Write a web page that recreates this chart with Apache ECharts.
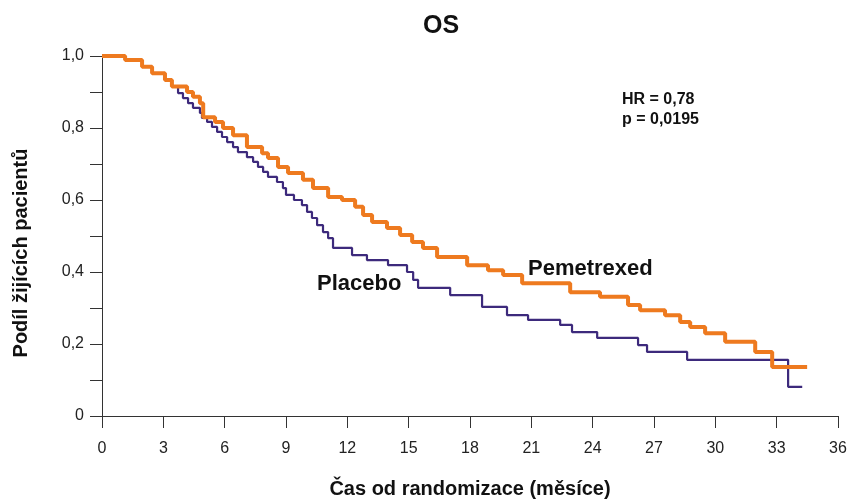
<!DOCTYPE html>
<html>
<head>
<meta charset="utf-8">
<script src="https://cdn.jsdelivr.net/npm/echarts@6/dist/echarts.min.js"></script>
<style>html,body{margin:0;padding:0;background:#fff}#c{width:848px;height:499px}</style>
</head>
<body>
<div id="c"></div>
<script>
// Kaplan-Meier step data: time (months) at which survival drops, and survival after the drop
var pemTime = [0, 1.13, 1.96, 2.45, 3.08, 3.42, 4.16, 4.45, 4.79, 4.95, 5.53, 5.92, 6.41, 7.09, 7.83, 8.12, 8.61, 9.10, 9.83, 10.32, 11.06, 11.74, 12.38, 12.77, 13.21, 13.94, 14.58, 15.17, 15.70, 16.39, 17.86, 18.88, 19.62, 20.55, 22.90, 24.36, 25.73, 26.32, 27.54, 28.28, 28.77, 29.50, 30.48, 31.95, 32.78, 34.49];
var pemSurv = [1.0, 0.989, 0.970, 0.952, 0.933, 0.915, 0.900, 0.887, 0.869, 0.830, 0.817, 0.800, 0.780, 0.747, 0.730, 0.717, 0.692, 0.675, 0.656, 0.633, 0.608, 0.600, 0.581, 0.558, 0.539, 0.522, 0.503, 0.483, 0.467, 0.442, 0.419, 0.405, 0.392, 0.369, 0.344, 0.331, 0.308, 0.294, 0.280, 0.261, 0.247, 0.230, 0.206, 0.178, 0.136, 0.136];
var plaTime = [0, 1.13, 1.96, 2.45, 3.08, 3.42, 3.72, 3.96, 4.21, 4.45, 4.79, 4.89, 5.14, 5.38, 5.63, 5.87, 6.12, 6.41, 6.65, 7.09, 7.39, 7.63, 7.88, 8.12, 8.56, 8.85, 9.00, 9.39, 9.78, 10.03, 10.27, 10.52, 10.81, 11.06, 11.30, 12.23, 12.96, 13.99, 14.92, 15.22, 15.46, 17.03, 18.59, 19.81, 20.84, 22.41, 22.99, 24.22, 26.22, 26.66, 28.62, 33.56, 34.25];
var plaSurv = [1.0, 0.989, 0.970, 0.952, 0.933, 0.915, 0.897, 0.883, 0.869, 0.856, 0.842, 0.828, 0.817, 0.803, 0.789, 0.775, 0.761, 0.747, 0.733, 0.719, 0.706, 0.692, 0.678, 0.664, 0.650, 0.633, 0.614, 0.600, 0.586, 0.567, 0.550, 0.530, 0.511, 0.494, 0.467, 0.447, 0.433, 0.419, 0.400, 0.378, 0.356, 0.336, 0.303, 0.280, 0.267, 0.253, 0.233, 0.217, 0.197, 0.178, 0.156, 0.081, 0.081];
var xTicks = [0, 3, 6, 9, 12, 15, 18, 21, 24, 27, 30, 33, 36];
var yTickLabels = ['0', '0,2', '0,4', '0,6', '0,8', '1,0'];

function zip(a, b) { return a.map(function (v, i) { return [v, b[i]]; }); }

var FONT = '"Liberation Sans", Arial, sans-serif';
var chart = echarts.init(document.getElementById('c'), null, { renderer: 'canvas' });
chart.setOption({
  animation: false,
  backgroundColor: '#ffffff',
  title: {
    text: 'OS', left: 436, top: 9, textAlign: 'center',
    textStyle: { fontFamily: FONT, fontSize: 25, fontWeight: 'bold', color: '#111' }
  },
  grid: { left: 102, right: 10, top: 56, bottom: 83, containLabel: false, outerBoundsMode: 'none' },
  xAxis: {
    type: 'value', min: 0, max: 36, interval: 3,
    name: 'Čas od randomizace (měsíce)', nameLocation: 'middle', nameGap: 63,
    nameTextStyle: { fontFamily: FONT, fontSize: 20, fontWeight: 'bold', color: '#111' },
    axisLine: { lineStyle: { color: '#333', width: 1 } },
    axisTick: { show: true, length: 12, lineStyle: { color: '#333' } },
    axisLabel: {
      margin: 25, fontFamily: FONT, fontSize: 16, color: '#222',
      formatter: function (v) { return xTicks.indexOf(v) >= 0 ? String(v) : ''; }
    },
    splitLine: { show: false }
  },
  yAxis: {
    type: 'value', min: 0, max: 1, interval: 0.1,
    axisLine: { show: true, lineStyle: { color: '#333', width: 1 } },
    axisTick: { show: true, length: 12, lineStyle: { color: '#333' } },
    axisLabel: {
      margin: 18, fontFamily: FONT, fontSize: 16, color: '#222',
      formatter: function (v) {
        var k = Math.round(v * 10);
        if (k % 2 !== 0) return '';
        return yTickLabels[k / 2];
      }
    },
    splitLine: { show: false }
  },
  series: [
    {
      name: 'Placebo', type: 'line', step: 'end', showSymbol: false, z: 2,
      data: zip(plaTime, plaSurv),
      lineStyle: { color: '#3d2a7c', width: 2.2 }
    },
    {
      name: 'Pemetrexed', type: 'line', step: 'end', showSymbol: false, z: 3,
      data: zip(pemTime, pemSurv),
      lineStyle: { color: '#ee7a1f', width: 4 }
    }
  ],
  graphic: [
    { id: 'ytitle', type: 'text', x: 21, y: 253, rotation: Math.PI / 2,
      style: { text: 'Podíl žijících pacientů', font: 'bold 20px ' + FONT, fill: '#111', align: 'center', verticalAlign: 'middle' } },
    { id: 'hr', type: 'text', left: 622, top: 92, style: { text: 'HR = 0,78', font: 'bold 16px ' + FONT, fill: '#111' } },
    { id: 'pval', type: 'text', left: 622, top: 112, style: { text: 'p = 0,0195', font: 'bold 16px ' + FONT, fill: '#111' } },
    { id: 'lblPla', type: 'text', left: 317, top: 273, style: { text: 'Placebo', font: 'bold 22px ' + FONT, fill: '#111' } },
    { id: 'lblPem', type: 'text', left: 528, top: 258, style: { text: 'Pemetrexed', font: 'bold 22px ' + FONT, fill: '#111' } }
  ]
});

// extend the axis lines slightly past the origin, as in the reference
var o = chart.convertToPixel({ gridIndex: 0 }, [0, 0]);
chart.setOption({
  graphic: [
    { id: 'yext', type: 'line', shape: { x1: o[0] + 0.5, y1: o[1], x2: o[0] + 0.5, y2: o[1] + 10 }, style: { stroke: '#333', lineWidth: 1 }, silent: true },
    { id: 'xext', type: 'line', shape: { x1: o[0] - 12, y1: o[1] + 0.5, x2: o[0], y2: o[1] + 0.5 }, style: { stroke: '#333', lineWidth: 1 }, silent: true }
  ]
});
</script>
</body>
</html>
